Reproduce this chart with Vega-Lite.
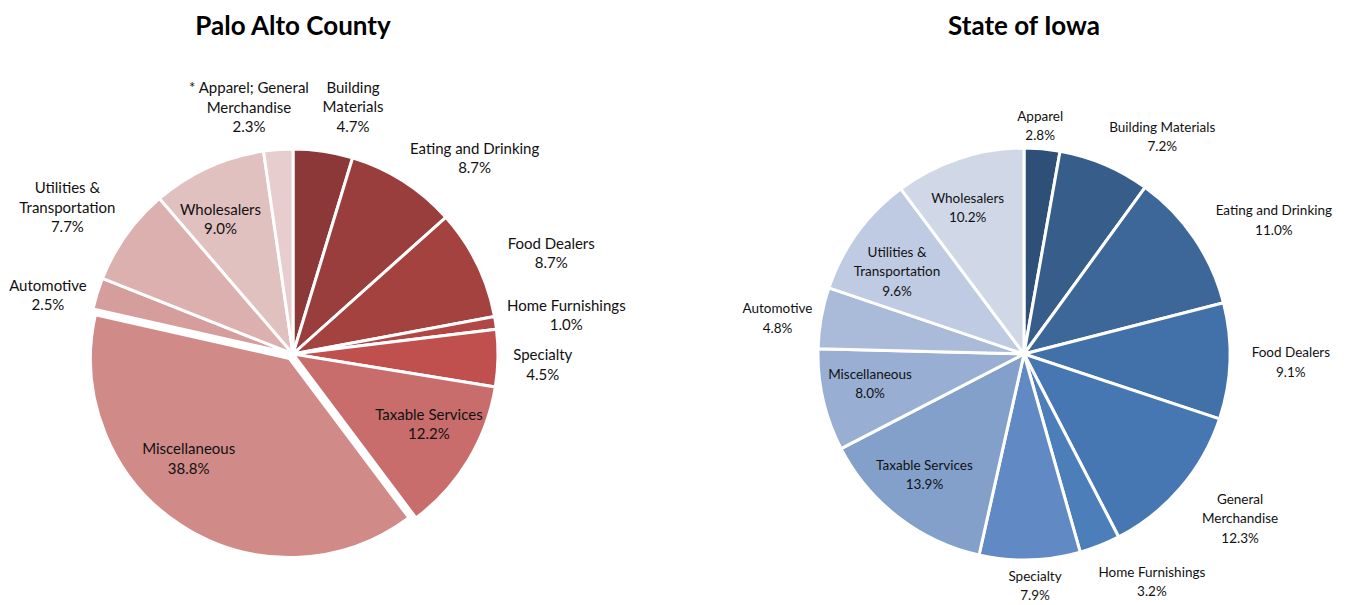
{
  "$schema": "https://vega.github.io/schema/vega-lite/v6.json",
  "padding": {"left": 0, "top": 14, "right": 0, "bottom": 0},
  "background": "white",
  "bounds": "flush",
  "spacing": 145,
  "resolve": {"scale": {"color": "independent", "theta": "independent"}},
  "datasets": {
    "palo": [
      {"category": "Building Materials", "label": "Building\nMaterials", "share": 4.7},
      {"category": "Eating and Drinking", "label": "Eating and Drinking", "share": 8.7},
      {"category": "Food Dealers", "label": "Food Dealers", "share": 8.7},
      {"category": "Home Furnishings", "label": "Home Furnishings", "share": 1.0},
      {"category": "Specialty", "label": "Specialty", "share": 4.5},
      {"category": "Taxable Services", "label": "Taxable Services", "share": 12.2},
      {"category": "Miscellaneous", "label": "Miscellaneous", "share": 38.8},
      {"category": "Automotive", "label": "Automotive", "share": 2.5},
      {"category": "Utilities & Transportation", "label": "Utilities &\nTransportation", "share": 7.7},
      {"category": "Wholesalers", "label": "Wholesalers", "share": 9.0},
      {"category": "* Apparel; General Merchandise", "label": "* Apparel; General\nMerchandise", "share": 2.3}
    ],
    "iowa": [
      {"category": "Apparel", "label": "Apparel", "share": 2.8},
      {"category": "Building Materials", "label": "Building Materials", "share": 7.2},
      {"category": "Eating and Drinking", "label": "Eating and Drinking", "share": 11.0},
      {"category": "Food Dealers", "label": "Food Dealers", "share": 9.1},
      {"category": "General Merchandise", "label": "General\nMerchandise", "share": 12.3},
      {"category": "Home Furnishings", "label": "Home Furnishings", "share": 3.2},
      {"category": "Specialty", "label": "Specialty", "share": 7.9},
      {"category": "Taxable Services", "label": "Taxable Services", "share": 13.9},
      {"category": "Miscellaneous", "label": "Miscellaneous", "share": 8.0},
      {"category": "Automotive", "label": "Automotive", "share": 4.8},
      {"category": "Utilities & Transportation", "label": "Utilities &\nTransportation", "share": 9.6},
      {"category": "Wholesalers", "label": "Wholesalers", "share": 10.2}
    ]
  },
  "hconcat": [
    {
      "title": {"text": "Palo Alto County", "offset": 14},
      "width": 586,
      "height": 600,
      "data": {"name": "palo"},
      "transform": [
        {"window": [{"op": "row_number", "as": "idx"}]},
        {"calculate": "datum.label + '\\n' + format(datum.share, '.1f') + '%'", "as": "text"}
      ],
      "encoding": {
        "theta": {"field": "share", "type": "quantitative", "stack": true},
        "order": {"field": "idx", "type": "quantitative"},
        "detail": {"field": "category", "type": "nominal"}
      },
      "layer": [
        {
          "mark": {"type": "arc", "radius": 205, "stroke": "white", "strokeWidth": 3},
          "encoding": {
            "color": {"field": "category", "type": "nominal", "legend": null,
              "scale": {
                "domain": ["Building Materials", "Eating and Drinking", "Food Dealers", "Home Furnishings", "Specialty", "Taxable Services", "Miscellaneous", "Automotive", "Utilities & Transportation", "Wholesalers", "* Apparel; General Merchandise"],
                "range": ["#8c3838", "#9a3e3d", "#a44240", "#b24644", "#c0504d", "#c86d6b", "#d08a88", "#d59d9c", "#dbb0af", "#e1c0c0", "#e7cdcd"]
              }},
            "opacity": {"condition": {"test": "datum.category === 'Miscellaneous'", "value": 0}, "value": 1}
          }
        },
        {
          "mark": {"type": "arc", "radius": 199, "stroke": "white", "strokeWidth": 3, "xOffset": -3.5, "yOffset": 4.5},
          "encoding": {
            "color": {"field": "category", "type": "nominal", "legend": null},
            "opacity": {"condition": {"test": "datum.category === 'Miscellaneous'", "value": 1}, "value": 0}
          }
        },
        {
          "mark": {"type": "text", "radius": 153, "thetaOffset": -0.067, "dy": -9.75},
          "encoding": {"text": {"condition": {"test": "datum.category === 'Wholesalers' || datum.category === 'Taxable Services'", "field": "text"}, "value": ""}}
        },
        {
          "mark": {"type": "text", "radius": 148, "thetaOffset": 0.208, "dy": -9.75},
          "encoding": {"text": {"condition": {"test": "datum.category === 'Miscellaneous'", "field": "text"}, "value": ""}}
        },
        {
          "mark": {"type": "text", "radius": 250, "thetaOffset": -0.105, "dy": -19.5},
          "encoding": {"text": {"condition": {"test": "datum.category === '* Apparel; General Merchandise'", "field": "text"}, "value": ""}}
        },
        {
          "mark": {"type": "text", "radius": 254, "thetaOffset": 0.091, "dy": -19.5},
          "encoding": {"text": {"condition": {"test": "datum.category === 'Building Materials'", "field": "text"}, "value": ""}}
        },
        {
          "mark": {"type": "text", "radius": 267, "thetaOffset": 0.18, "dy": -9.75},
          "encoding": {"text": {"condition": {"test": "datum.category === 'Eating and Drinking'", "field": "text"}, "value": ""}}
        },
        {
          "mark": {"type": "text", "radius": 277, "thetaOffset": 0.086, "dy": -9.75},
          "encoding": {"text": {"condition": {"test": "datum.category === 'Food Dealers'", "field": "text"}, "value": ""}}
        },
        {
          "mark": {"type": "text", "radius": 276, "thetaOffset": 0.012, "dy": -9.75},
          "encoding": {"text": {"condition": {"test": "datum.category === 'Home Furnishings'", "field": "text"}, "value": ""}}
        },
        {
          "mark": {"type": "text", "radius": 250, "thetaOffset": 0.024, "dy": -9.75},
          "encoding": {"text": {"condition": {"test": "datum.category === 'Specialty'", "field": "text"}, "value": ""}}
        },
        {
          "mark": {"type": "text", "radius": 252, "thetaOffset": -0.065, "dy": -9.75},
          "encoding": {"text": {"condition": {"test": "datum.category === 'Automotive'", "field": "text"}, "value": ""}}
        },
        {
          "mark": {"type": "text", "radius": 269, "thetaOffset": -0.044, "dy": -19.5},
          "encoding": {"text": {"condition": {"test": "datum.category === 'Utilities & Transportation'", "field": "text"}, "value": ""}}
        }
      ]
    },
    {
      "title": {"text": "State of Iowa", "offset": 14},
      "width": 586,
      "height": 600,
      "data": {"name": "iowa"},
      "transform": [
        {"window": [{"op": "row_number", "as": "idx"}]},
        {"calculate": "datum.label + '\\n' + format(datum.share, '.1f') + '%'", "as": "text"}
      ],
      "encoding": {
        "theta": {"field": "share", "type": "quantitative", "stack": true},
        "order": {"field": "idx", "type": "quantitative"},
        "detail": {"field": "category", "type": "nominal"}
      },
      "layer": [
        {
          "mark": {"type": "arc", "radius": 206, "stroke": "white", "strokeWidth": 3},
          "encoding": {
            "color": {"field": "category", "type": "nominal", "legend": null,
              "scale": {
                "domain": ["Apparel", "Building Materials", "Eating and Drinking", "Food Dealers", "General Merchandise", "Home Furnishings", "Specialty", "Taxable Services", "Miscellaneous", "Automotive", "Utilities & Transportation", "Wholesalers"],
                "range": ["#2e5078", "#375d8a", "#3d6799", "#4270a9", "#4777b2", "#4c7eba", "#6189c3", "#83a0cb", "#98afd3", "#aabbd9", "#bfcbe3", "#d0d8e8"]
              }}
          }
        },
        {
          "mark": {"type": "text", "fontSize": 13.5, "radius": 157, "thetaOffset": 0.03, "dy": -9.75},
          "encoding": {"text": {"condition": {"test": "datum.category === 'Taxable Services' || datum.category === 'Miscellaneous'", "field": "text"}, "value": ""}}
        },
        {
          "mark": {"type": "text", "fontSize": 13.5, "radius": 156, "thetaOffset": -0.049, "dy": -9.75},
          "encoding": {"text": {"condition": {"test": "datum.category === 'Wholesalers'", "field": "text"}, "value": ""}}
        },
        {
          "mark": {"type": "text", "fontSize": 13.5, "radius": 151, "thetaOffset": -0.056, "dy": -19.5},
          "encoding": {"text": {"condition": {"test": "datum.category === 'Utilities & Transportation'", "field": "text"}, "value": ""}}
        },
        {
          "mark": {"type": "text", "fontSize": 13.5, "radius": 228, "thetaOffset": -0.017, "dy": -9.75},
          "encoding": {"text": {"condition": {"test": "datum.category === 'Apparel'", "field": "text"}, "value": ""}}
        },
        {
          "mark": {"type": "text", "fontSize": 13.5, "radius": 257, "thetaOffset": 0.166, "dy": -9.75},
          "encoding": {"text": {"condition": {"test": "datum.category === 'Building Materials'", "field": "text"}, "value": ""}}
        },
        {
          "mark": {"type": "text", "fontSize": 13.5, "radius": 283, "thetaOffset": 0.108, "dy": -9.75},
          "encoding": {"text": {"condition": {"test": "datum.category === 'Eating and Drinking'", "field": "text"}, "value": ""}}
        },
        {
          "mark": {"type": "text", "fontSize": 13.5, "radius": 267, "thetaOffset": 0, "dy": -9.75},
          "encoding": {"text": {"condition": {"test": "datum.category === 'Food Dealers'", "field": "text"}, "value": ""}}
        },
        {
          "mark": {"type": "text", "fontSize": 13.5, "radius": 272, "thetaOffset": -0.054, "dy": -19.5},
          "encoding": {"text": {"condition": {"test": "datum.category === 'General Merchandise'", "field": "text"}, "value": ""}}
        },
        {
          "mark": {"type": "text", "fontSize": 13.5, "radius": 262, "thetaOffset": -0.133, "dy": -9.75},
          "encoding": {"text": {"condition": {"test": "datum.category === 'Home Furnishings'", "field": "text"}, "value": ""}}
        },
        {
          "mark": {"type": "text", "fontSize": 13.5, "radius": 233, "thetaOffset": -0.019, "dy": -9.75},
          "encoding": {"text": {"condition": {"test": "datum.category === 'Specialty'", "field": "text"}, "value": ""}}
        },
        {
          "mark": {"type": "text", "fontSize": 13.5, "radius": 249, "thetaOffset": -0.035, "dy": -9.75},
          "encoding": {"text": {"condition": {"test": "datum.category === 'Automotive'", "field": "text"}, "value": ""}}
        }
      ]
    }
  ],
  "config": {
    "view": {"stroke": null},
    "text": {"font": "Lato", "fontSize": 15, "lineHeight": 19.5, "lineBreak": "\n", "color": "#111111"},
    "title": {"font": "Lato", "fontSize": 26, "fontWeight": "bold", "color": "#000000", "frame": "group", "anchor": "middle"}
  }
}
